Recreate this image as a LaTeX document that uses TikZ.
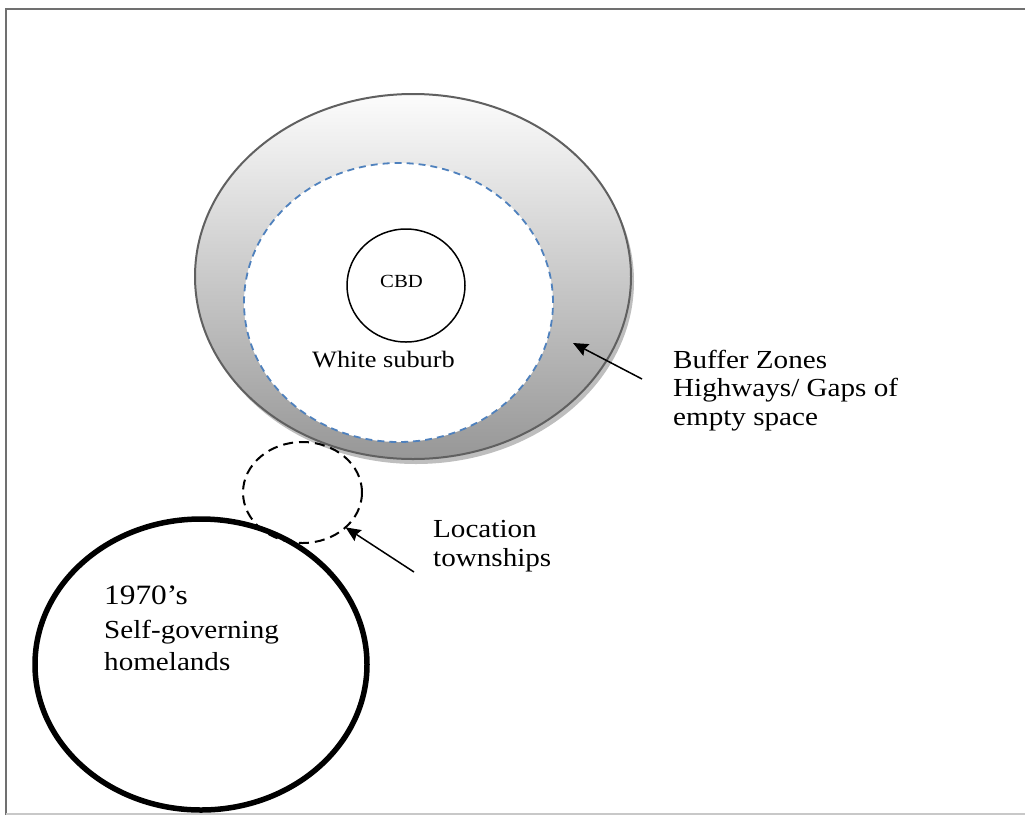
\documentclass[tikz,border=0pt]{standalone}
\usepackage{fontspec}
\setmainfont{Liberation Serif}[FakeStretch=1.12]
\usetikzlibrary{arrows.meta,shapes.geometric,shadows}

\definecolor{framegray}{HTML}{707070}
\definecolor{framelight}{HTML}{C8C8C8}
\definecolor{ringedge}{HTML}{606060}
\definecolor{ringtop}{HTML}{FCFCFC}
\definecolor{ringmid}{HTML}{D6D6D6}
\definecolor{ringbottom}{HTML}{979797}
\definecolor{ringshadow}{HTML}{BEBEBE}
\definecolor{suburbblue}{HTML}{4F81BD}

\tikzset{
  zone/.style={ellipse, inner sep=0pt, outer sep=0pt},
  pointer/.style={line width=1.5pt, -{Stealth[length=15pt,width=13pt,inset=2pt]}},
  lbl/.style={inner sep=0pt, anchor=base west, font=\fontsize{26}{29}\selectfont},
}

\begin{document}
\begin{tikzpicture}[x=1pt,y=-1pt]
\useasboundingbox (0,0) rectangle (1025,815);

% page frame
\draw[framegray, line width=2pt] (6,815) -- (6,9) -- (1025,9);
\draw[framelight, line width=1.5pt] (6,814) -- (1025,814);

% buffer ring with its shadow
\node[zone, minimum width=436pt, minimum height=365pt, draw=ringedge, line width=2pt,
      top color=ringtop, middle color=ringmid, bottom color=ringbottom,
      drop shadow={shadow xshift=3pt, shadow yshift=-5pt, fill=ringshadow, opacity=1}]
  (ring) at (413,276.5) {};

% white suburb
\node[zone, minimum width=309pt, minimum height=279pt, fill=white,
      draw=suburbblue, line width=1.8pt, dash pattern=on 7pt off 5pt]
  (suburb) at (398.5,302.5) {};

% central business district
\node[zone, minimum width=118pt, minimum height=113pt, draw=black, line width=1.5pt]
  (cbd) at (406,285.5) {};
\node[inner sep=0pt, anchor=base, font=\fontsize{18.5}{20}\selectfont] (cbdtext) at (401.5,287) {CBD};
\node[inner sep=0pt, anchor=base west, font=\fontsize{23.5}{26}\selectfont] (suburbtext) at (312,367) {White suburb};

% townships
\node[zone, minimum width=119pt, minimum height=101pt, draw=black, line width=2pt,
      dash pattern=on 10pt off 6pt]
  (town) at (302.5,492.5) {};

% homelands
\node[zone, minimum width=332pt, minimum height=291pt, draw=black, line width=5.5pt]
  (home) at (201,664.5) {};

% labels
\node[lbl] (buf1) at (673,368) {Buffer Zones};
\node[lbl] (buf2) at (673,396.7) {Highways/ Gaps of};
\node[lbl] (buf3) at (673,425) {empty space};

\node[lbl] (loc1) at (433,537.3) {Location};
\node[lbl] (loc2) at (433,566) {townships};

\node[lbl, font=\fontsize{28}{31}\selectfont] (home1) at (104,604) {1970’s};
\node[lbl] (home2) at (104,638) {Self-governing};
\node[lbl] (home3) at (104,670) {homelands};

% pointers
\coordinate (bufTail) at (642,379);
\coordinate (bufTip) at (573,343);
\draw[pointer] (bufTail) -- (bufTip);

\coordinate (townTail) at (414,572);
\draw[pointer] (townTail) -- (town.-39);
\end{tikzpicture}
\end{document}
